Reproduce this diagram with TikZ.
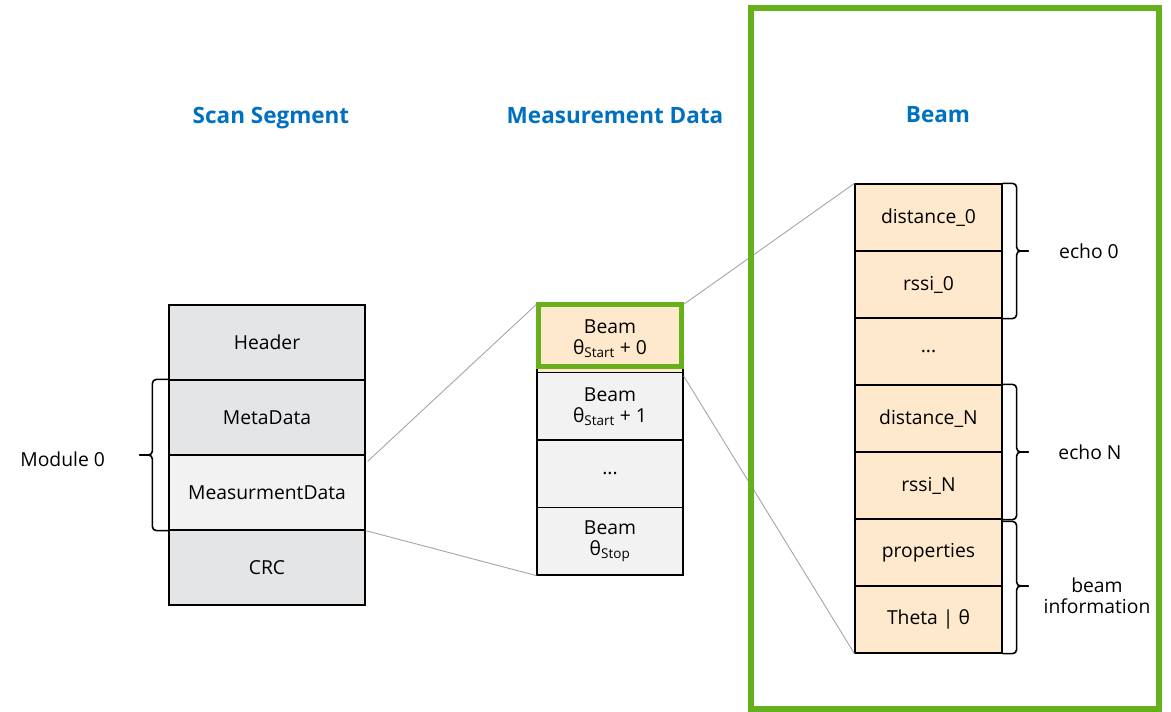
\documentclass[tikz,border=0pt]{standalone}
\usepackage{fontspec}
\setmainfont{Open Sans}
\usetikzlibrary{calc}
\definecolor{frameGreen}{RGB}{101,176,27}
\definecolor{beamFill}{RGB}{254,233,204}
\definecolor{cellGray}{RGB}{228,229,231}
\definecolor{cellLight}{RGB}{242,242,242}
\definecolor{titleBlue}{RGB}{0,112,192}
\definecolor{linkGray}{RGB}{165,165,165}
\tikzset{
  cell/.style={draw=black, line width=1.2pt, rectangle, inner sep=0pt, align=center},
  segcell/.style={cell, fill=cellGray, minimum width=196pt, minimum height=75pt},
  mcell/.style={cell, fill=cellLight, minimum width=146pt, minimum height=67.5pt},
  bcell/.style={cell, fill=beamFill, minimum width=147pt, minimum height=67pt},
  title/.style={text=titleBlue, font=\fontsize{22.5}{27}\selectfont\bfseries},
  label/.style={align=center},
  link/.style={draw=linkGray, line width=0.9pt},
  brc/.style={draw=black, line width=1.6pt, rounded corners=4pt},
}
\newcommand{\thst}{θ\textsubscript{Start}}
\begin{document}
\begin{tikzpicture}[x=1pt, y=-1pt, font=\fontsize{19.3}{23}\selectfont]
\useasboundingbox (0,0) rectangle (1171,712);

% titles
\node[title] (tseg) at (271,118) {Scan Segment};
\node[title] (tmeas) at (615,116) {Measurement Data};
\node[title] (tbeam) at (938,115) {Beam};

% scan segment stack
\node[segcell] (hdr) at (267,342.5) {Header};
\node[segcell] (meta) at (267,417.5) {MetaData};
\node[segcell, fill=cellLight] (mdata) at (267,492.5) {MeasurmentData};
\node[segcell] (crc) at (267,567.5) {CRC};

% measurement data stack
\node[mcell, fill=beamFill] (b0) at (610,338.75) {Beam\\[-2pt]\thst{} + 0};
\node[mcell] (b1) at (610,406.25) {Beam\\[-2pt]\thst{} + 1};
\node[mcell] (bdots) at (610,473.75) {...};
\node[mcell] (bstop) at (610,541.25) {Beam\\[-2pt]θ\textsubscript{Stop}};
\draw[frameGreen, line width=5pt] ($(b0.north west)+(2.5,0.5)$) rectangle ($(b0.south east)+(-2.5,-6.5)$);

% beam stack
\node[bcell] (d0) at (928.5,217.5) {distance\_0};
\node[bcell] (r0) at (928.5,284.5) {rssi\_0};
\node[bcell] (rdots) at (928.5,351.5) {...};
\node[bcell] (dN) at (928.5,418.5) {distance\_N};
\node[bcell] (rN) at (928.5,485.5) {rssi\_N};
\node[bcell] (prop) at (928.5,552.5) {properties};
\node[bcell] (theta) at (928.5,619.5) {Theta | θ};

% zoom lines between the stacks
\coordinate (mdOut) at ($(mdata.north east)+(2,7)$);
\coordinate (b1Out) at ($(b1.north east)+(0,4)$);
\draw[link] (mdOut) -- (b0.north west);
\draw[link] (mdata.south east) -- (bstop.south west);
\draw[link] (b0.north east) -- (d0.north west);
\draw[link] (b1Out) -- (theta.south west);

% frame around the beam view
\draw[frameGreen, line width=6pt] (751,8) rectangle (1159,709);

% brace for the module
\coordinate (modTip) at ($(meta.north west)!0.5!(mdata.south west)+(-29,0)$);
\draw[brc] (meta.north west) -- ++(-16,0) |- (modTip);
\draw[brc] (mdata.south west) -- ++(-16,0) |- (modTip);
\node[label, anchor=east] (modlbl) at ($(modTip)+(-31,4)$) {Module 0};

% braces for the echoes and beam information
\coordinate (e0Tip) at ($(d0.north east)!0.5!(r0.south east)+(26,0)$);
\draw[brc] (d0.north east) -- ++(14,0) |- (e0Tip);
\draw[brc] (r0.south east) -- ++(14,0) |- (e0Tip);
\node[label] (e0lbl) at (1089,251) {echo 0};

\coordinate (eNTip) at ($(dN.north east)!0.5!(rN.south east)+(26,0)$);
\draw[brc] (dN.north east) -- ++(14,0) |- (eNTip);
\draw[brc] (rN.south east) -- ++(14,0) |- (eNTip);
\node[label] (eNlbl) at (1090,452) {echo N};

\coordinate (biTip) at ($(prop.north east)!0.5!(theta.south east)+(26,0)$);
\draw[brc] ($(prop.north east)+(0,3)$) -- ++(14,0) |- (biTip);
\draw[brc] (theta.south east) -- ++(14,0) |- (biTip);
\node[label] (bilbl) at (1097,596) {beam\\[-2pt]information};
\end{tikzpicture}
\end{document}
